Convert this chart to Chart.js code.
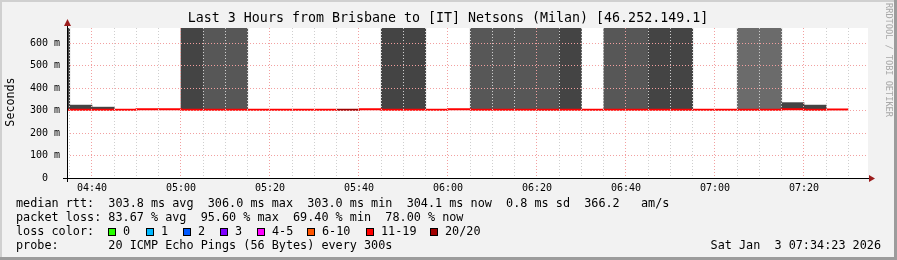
<!DOCTYPE html>
<html>
<head>
<meta charset="utf-8">
<script src="https://cdn.jsdelivr.net/npm/chart.js@4.4.1/dist/chart.umd.min.js"></script>
<style>
  html, body { margin: 0; padding: 0; background: #f2f2f2; }
  #wrap { width: 897px; height: 260px; position: relative; }
</style>
</head>
<body>
<div id="wrap"><canvas id="smoke" width="897" height="260"></canvas></div>
<script>
// 5 minute bins (start time), Brisbane -> Netsons Milan
const binTimes = ['04:30','04:35','04:40','04:45','04:50','04:55','05:00','05:05','05:10','05:15',
                  '05:20','05:25','05:30','05:35','05:40','05:45','05:50','05:55','06:00','06:05',
                  '06:10','06:15','06:20','06:25','06:30','06:35','06:40','06:45','06:50','06:55',
                  '07:00','07:05','07:10','07:15','07:20','07:25'];
// median rtt per bin, ms
const medianRtt = [303.4,303.4,303.2,303.2,306.0,305.8,303.3,303.3,303.2,303.2,
                   303.1,303.1,303.2,303.3,305.7,303.4,303.3,303.2,305.9,303.3,
                   303.2,303.2,303.1,303.2,303.2,303.3,303.2,303.2,303.1,303.0,
                   303.1,303.1,303.2,306.0,303.4,304.1];
// top of the smoke (slowest ping) per bin, ms; null = no smoke
const smokeTop = [700,324,315,null,null,null,700,700,700,null,
                  null,null,null,null,null,700,700,null,null,700,
                  700,700,700,700,null,700,700,700,700,null,
                  null,700,700,335,324,null];
// smoke density: 1 light, 2 medium, 3 dark
const smokeLevel = [3,3,3,0,0,0,3,2,2,0,
                    0,0,0,0,0,3,3,0,0,2,
                    2,2,2,3,0,2,2,3,3,0,
                    0,1,1,3,3,0];
// loss bucket per bin
const lossBucket = ['11-19','11-19','11-19','11-19','11-19','11-19','11-19','11-19','11-19','11-19',
                    '11-19','11-19','11-19','20/20','11-19','11-19','11-19','11-19','11-19','11-19',
                    '11-19','11-19','11-19','11-19','11-19','11-19','11-19','11-19','11-19','11-19',
                    '11-19','11-19','11-19','11-19','11-19','11-19'];

const lossLabels = ['0','1','2','3','4-5','6-10','11-19','20/20'];
const lossColors = ['#26ff00','#00b8ff','#0059ff','#7e00ff','#ff00ff','#ff5500','#ff0000','#a10000'];
const smokeColors = [null, '#6b6b6b', '#575757', '#444444'];

const yTicks = [0,50,100,150,200,250,300,350,400,450,500,550,600,650];

const rttLine  = 'median rtt:  303.8 ms avg  306.0 ms max  303.0 ms min  304.1 ms now  0.8 ms sd  366.2   am/s';
const lossLine = 'packet loss: 83.67 % avg  95.60 % max  69.40 % min  78.00 % now';
const probeLine = 'probe:       20 ICMP Echo Pings (56 Bytes) every 300s';
const stamp = 'Sat Jan  3 07:34:23 2026';
const title = 'Last 3 Hours from Brisbane to [IT] Netsons (Milan) [46.252.149.1]';

const toMin = t => { const p = t.split(':'); return (+p[0]) * 60 + (+p[1]); };
const fmt = v => String(Math.floor(v / 60)).padStart(2, '0') + ':' + String(v % 60).padStart(2, '0');

const xMin = 4 * 60 + 34 + 23 / 60;   // 04:34:23
const xMax = xMin + 180;

const smokeData = binTimes.map((t, i) => ({
  x: toMin(t) + 2.5,
  y: smokeTop[i] == null ? null : [medianRtt[i], smokeTop[i]]
}));
const medianData = binTimes.map((t, i) => ({ x: toMin(t), y: medianRtt[i] }));
medianData.push({ x: toMin(binTimes[binTimes.length - 1]) + 5, y: medianRtt[medianRtt.length - 1] });

const MONO = '"DejaVu Sans Mono", monospace';
const majorGrid = '#f2a0a0';
const minorGrid = '#cfcfcf';

const frame = {
  id: 'frame',
  beforeDraw(chart) {
    const { ctx, chartArea: a } = chart;
    ctx.save();
    ctx.fillStyle = '#f2f2f2';
    ctx.fillRect(0, 0, 897, 260);
    ctx.fillStyle = '#d0d0d0';
    ctx.fillRect(0, 0, 897, 2);
    ctx.fillRect(0, 0, 2, 260);
    ctx.fillStyle = '#9c9c9c';
    ctx.fillRect(894, 0, 3, 260);
    ctx.fillRect(0, 257, 897, 3);
    ctx.fillStyle = '#ffffff';
    ctx.fillRect(a.left, a.top, a.right - a.left, a.bottom - a.top);
    ctx.restore();
  },
  afterDraw(chart) {
    const { ctx, chartArea: a } = chart;
    ctx.save();
    // axes
    ctx.strokeStyle = '#000';
    ctx.lineWidth = 1;
    ctx.beginPath();
    ctx.moveTo(63, a.bottom + 0.5);
    ctx.lineTo(a.right + 1, a.bottom + 0.5);
    ctx.moveTo(a.left + 0.5, a.bottom + 4);
    ctx.lineTo(a.left + 0.5, a.top - 2);
    ctx.stroke();
    ctx.fillStyle = '#9b1c1c';
    ctx.beginPath();
    ctx.moveTo(a.left + 0.5, 19);
    ctx.lineTo(a.left - 3, 26);
    ctx.lineTo(a.left + 4, 26);
    ctx.closePath();
    ctx.fill();
    ctx.beginPath();
    ctx.moveTo(a.right + 7, a.bottom + 0.5);
    ctx.lineTo(a.right + 1, a.bottom - 3);
    ctx.lineTo(a.right + 1, a.bottom + 4);
    ctx.closePath();
    ctx.fill();

    // title
    ctx.fillStyle = '#000';
    ctx.font = '13.3px ' + MONO;
    ctx.textAlign = 'center';
    ctx.textBaseline = 'middle';
    ctx.fillText(title, 448, 19);

    // y axis title
    ctx.font = '11.7px ' + MONO;
    ctx.save();
    ctx.translate(11, 102);
    ctx.rotate(-Math.PI / 2);
    ctx.fillText('Seconds', 0, 0);
    ctx.restore();

    // rrdtool credit
    ctx.save();
    ctx.translate(888, 60);
    ctx.rotate(Math.PI / 2);
    ctx.font = '8.6px ' + MONO;
    ctx.fillStyle = '#a8a8a8';
    ctx.fillText('RRDTOOL / TOBI OETIKER', 0, 0);
    ctx.restore();

    // legend block
    ctx.textAlign = 'left';
    ctx.font = '11.8px ' + MONO;
    ctx.fillStyle = '#000';
    ctx.fillText(rttLine, 16, 204);
    ctx.fillText(lossLine, 16, 218);
    ctx.fillText('loss color:', 16, 232);
    ctx.fillText(probeLine, 16, 246);
    const swX = [108, 146, 183, 220, 257, 307, 366, 430];
    lossLabels.forEach((lab, i) => {
      ctx.fillStyle = lossColors[i];
      ctx.fillRect(swX[i], 228, 8, 8);
      ctx.strokeStyle = '#000';
      ctx.strokeRect(swX[i] + 0.5, 228.5, 7, 7);
      ctx.fillStyle = '#000';
      ctx.fillText(lab, swX[i] + 15, 232);
    });
    ctx.textAlign = 'right';
    ctx.fillText(stamp, 881, 246);
    ctx.restore();
  }
};

new Chart(document.getElementById('smoke'), {
  type: 'bar',
  plugins: [frame],
  data: {
    datasets: [
      {
        type: 'line',
        label: 'median rtt',
        data: medianData,
        order: 0,
        stepped: 'before',
        borderWidth: 2,
        borderColor: '#ff0000',
        segment: {
          borderColor: c => lossColors[lossLabels.indexOf(lossBucket[c.p0DataIndex])]
        },
        pointRadius: 0,
        clip: 0
      },
      {
        label: 'smoke',
        data: smokeData,
        order: 1,
        backgroundColor: smokeLevel.map(l => smokeColors[l] || 'rgba(0,0,0,0)'),
        borderWidth: 0,
        barPercentage: 1,
        categoryPercentage: 1,
        clip: 0
      }
    ]
  },
  options: {
    responsive: false,
    animation: false,
    events: [],
    layout: { padding: { top: 28, right: 29, left: 0, bottom: 0 } },
    plugins: { legend: { display: false }, tooltip: { enabled: false } },
    scales: {
      x: {
        type: 'linear',
        offset: false,
        min: xMin,
        max: xMax,
        afterFit: s => { s.height = 82; },
        afterBuildTicks: s => {
          const t = [];
          for (let v = 275; v <= 450; v += 5) t.push({ value: v });
          s.ticks = t;
        },
        ticks: {
          autoSkip: false,
          maxRotation: 0,
          padding: 4,
          color: '#000',
          font: { family: MONO, size: 10 },
          callback: v => (v % 20 === 0 ? fmt(v) : '')
        },
        grid: {
          z: 1,
          offset: false,
          drawTicks: false,
          lineWidth: 1,
          color: c => (c.tick && c.tick.value % 20 === 0 ? majorGrid : minorGrid)
        },
        border: { display: false, dash: [1, 2] }
      },
      y: {
        min: 0,
        max: 666.667,
        afterFit: s => { s.width = 67; },
        afterBuildTicks: s => { s.ticks = yTicks.map(v => ({ value: v })); },
        ticks: {
          padding: 7,
          color: '#000',
          font: { family: MONO, size: 10 },
          callback: v => (v === 0 ? '0  ' : (v % 100 === 0 ? v + ' m' : ''))
        },
        grid: {
          z: 1,
          drawTicks: false,
          color: c => (c.tick && c.tick.value === 0 ? 'rgba(0,0,0,0)' :
                       (c.tick && c.tick.value % 100 === 0 ? majorGrid : minorGrid))
        },
        border: { display: false, dash: [1, 2] }
      }
    }
  }
});
</script>
</body>
</html>
